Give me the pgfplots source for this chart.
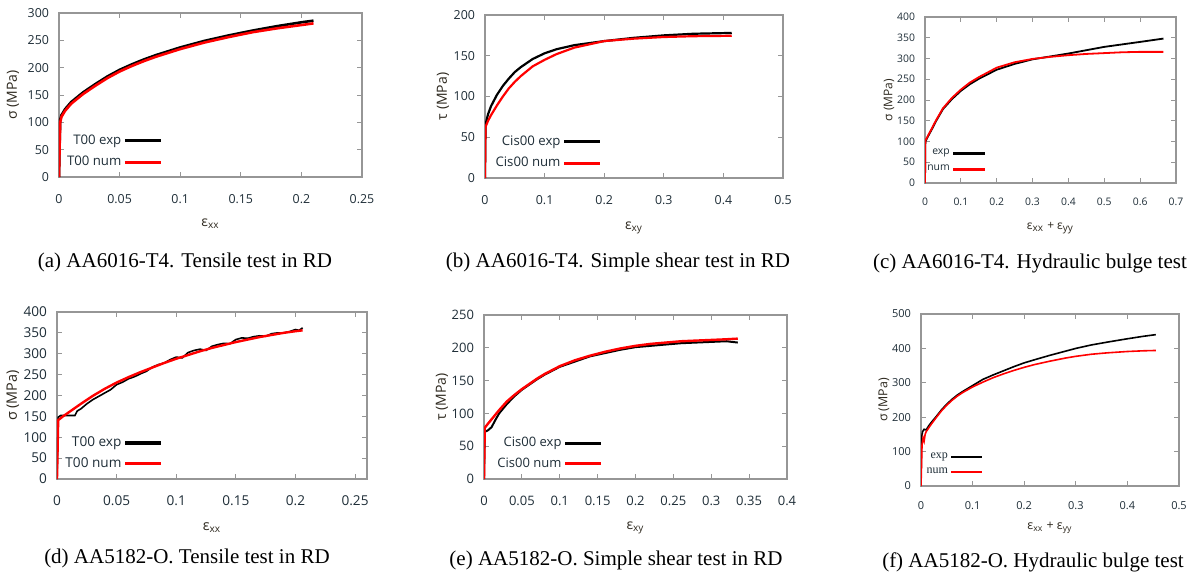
\documentclass[border=0pt]{standalone}
\usepackage{fontspec}
\setmainfont{Liberation Serif}
\newfontfamily\osans{Open Sans}
\usepackage{pgfplots}
\pgfplotsset{compat=1.18}
\definecolor{ticktxt}{RGB}{30,45,55}
\definecolor{labtxt}{RGB}{45,40,30}
\definecolor{frame}{RGB}{150,150,150}
\pgfplotsset{
  myaxis/.style={scale only axis, anchor=south west,
    axis line style={frame, line width=0.6pt},
    tick style={frame, line width=0.5pt},
    major tick length=2.5pt,
    tick label style={text=ticktxt, /pgf/number format/assume math mode=true},
    scaled ticks=false,
    xticklabel style={/pgf/number format/fixed, /pgf/number format/precision=3, yshift=-5pt},
    yticklabel style={xshift=-1.5pt},
    label style={text=labtxt},
    legend plot pos=right,
    legend cell align=right,
    legend style={draw=none, fill=none, inner sep=0pt, nodes={inner sep=1pt, text=ticktxt}, row sep=1.5pt},
    legend image code/.code={\draw[##1, line width=1.6pt] (0pt,0pt) -- (18pt,0pt);},
  },
  fs/.style={tick label style={font=\osans\fontsize{#1}{#1}\selectfont},
    legend style={font=\osans\fontsize{#1}{#1}\selectfont}},
  ls/.style={label style={font=\osans\fontsize{#1}{#1}\selectfont}},
}
\begin{document}
\begin{tikzpicture}
\path[use as bounding box] (0,0) rectangle (599.5pt,-289pt);
% (a)
\begin{axis}[myaxis, fs=6.2, ls=7, at={(29.5pt,-88.5pt)}, width=151.5pt, height=82pt,
  xmin=0, xmax=0.25, ymin=0, ymax=300,
  xtick={0,0.05,0.1,0.15,0.2,0.25}, ytick={0,50,100,150,200,250,300},
  xlabel={ε\textsubscript{xx}}, ylabel={σ (MPa)},
  xlabel style={at={(axis description cs:0.5,0)}, anchor=center, yshift=-23.5pt},
  ylabel style={at={([xshift=-23pt]axis description cs:0,0.5)}, anchor=center},
  legend style={at={(axis description cs:0.343,0.155)}, anchor=east, row sep=2.5pt, font=\osans\fontsize{6.6}{6.6}\selectfont}]
\addplot[black, line width=1.3pt] coordinates {(0,0) (0.0005,60) (0.001,105) (0.002,113) (0.005,124) (0.01,137) (0.02,155) (0.03,170) (0.04,184) (0.05,196) (0.06,206) (0.07,215) (0.08,223) (0.09,230) (0.1,237) (0.12,249) (0.14,259) (0.16,268) (0.18,276) (0.2,283) (0.21,286)};
\addlegendentry{T00 exp}
\addplot[red, line width=1.3pt] coordinates {(0,0) (0.0005,55) (0.001,100) (0.002,110) (0.005,121) (0.01,134) (0.02,152) (0.03,167) (0.04,181) (0.05,193) (0.06,203) (0.07,212) (0.08,220) (0.09,227) (0.1,234) (0.12,246) (0.14,256) (0.16,265) (0.18,272) (0.2,278) (0.21,281)};
\addlegendentry{T00 num}
\end{axis}
% (b)
\begin{axis}[myaxis, fs=6.2, ls=7, at={(242.5pt,-89pt)}, width=149pt, height=81.5pt,
  xmin=0, xmax=0.5, ymin=0, ymax=200,
  xtick={0,0.1,0.2,0.3,0.4,0.5}, ytick={0,50,100,150,200},
  xlabel={ε\textsubscript{xy}}, ylabel={τ (MPa)},
  xlabel style={at={(axis description cs:0.5,0)}, anchor=center, yshift=-25pt},
  ylabel style={at={([xshift=-21pt]axis description cs:0,0.5)}, anchor=center},
  legend style={at={(axis description cs:0.393,0.156)}, anchor=east, row sep=2.5pt, font=\osans\fontsize{6.6}{6.6}\selectfont}]
\addplot[black, line width=1.1pt] coordinates {(0,0) (0.0005,40) (0.001,66) (0.005,78) (0.01,88) (0.02,102) (0.03,113) (0.04,122) (0.05,130) (0.06,136) (0.07,141) (0.08,146) (0.1,153) (0.12,158) (0.15,163) (0.2,168) (0.25,172) (0.3,175) (0.35,177) (0.414,178)};
\addlegendentry{Cis00 exp}
\addplot[red, line width=1.1pt] coordinates {(0,0) (0.0005,40) (0.001,63) (0.005,70) (0.01,77) (0.02,89) (0.03,100) (0.04,110) (0.05,118) (0.06,125) (0.07,131) (0.08,137) (0.1,145) (0.12,152) (0.15,160) (0.2,168) (0.25,171) (0.3,173) (0.35,174) (0.414,174.5)};
\addlegendentry{Cis00 num}
\end{axis}
% (c)
\begin{axis}[myaxis, fs=5.2, ls=6, at={(462.5pt,-91.5pt)}, width=125.5pt, height=83pt,
  xmin=0, xmax=0.7, ymin=0, ymax=400,
  xtick={0,0.1,0.2,0.3,0.4,0.5,0.6,0.7}, ytick={0,50,100,150,200,250,300,350,400},
  xticklabel style={yshift=1pt},
  xlabel={ε\textsubscript{xx} + ε\textsubscript{yy}}, ylabel={σ (MPa)},
  xlabel style={at={(axis description cs:0.5,0)}, anchor=center, yshift=-22.5pt},
  ylabel style={at={([xshift=-18pt]axis description cs:0,0.5)}, anchor=center},
  legend image code/.code={\draw[#1, line width=1.4pt] (0pt,0pt) -- (16pt,0pt);},
  legend style={at={(axis description cs:0.247,0.130)}, anchor=east, row sep=1.5pt}]
\addplot[black, line width=0.9pt] coordinates {(0,0) (0.001,100) (0.01,115) (0.02,131) (0.03,148) (0.05,178) (0.075,202) (0.1,222) (0.125,238) (0.15,251) (0.2,273) (0.25,287) (0.3,298) (0.35,305) (0.4,312) (0.45,320) (0.5,328) (0.55,334) (0.6,340) (0.665,348)};
\addlegendentry{exp}
\addplot[red, line width=0.9pt] coordinates {(0,0) (0.001,102) (0.01,117) (0.02,133) (0.03,150) (0.05,180) (0.075,205) (0.1,225) (0.125,242) (0.15,255) (0.2,278) (0.25,291) (0.3,299) (0.35,304) (0.4,308) (0.45,311) (0.5,313) (0.55,315) (0.6,316) (0.665,316)};
\addlegendentry{num}
\end{axis}
% (d)
\begin{axis}[myaxis, fs=6.8, ls=7.2, at={(28.5pt,-239.5pt)}, width=155pt, height=83.5pt,
  xmin=0, xmax=0.26, ymin=0, ymax=400,
  xtick={0,0.05,0.1,0.15,0.2,0.25}, ytick={0,50,100,150,200,250,300,350,400},
  xlabel={ε\textsubscript{xx}}, ylabel={σ (MPa)},
  xlabel style={at={(axis description cs:0.5,0)}, anchor=center, yshift=-24.5pt},
  ylabel style={at={([xshift=-22pt]axis description cs:0,0.5)}, anchor=center},
  legend style={at={(axis description cs:0.342,0.153)}, anchor=east, row sep=2pt}]
\addplot[black, line width=0.8pt] coordinates {(0,0) (0.001,148) (0.003,152) (0.015,152) (0.017,163) (0.02,168) (0.025,180) (0.03,190) (0.035,198) (0.04,206) (0.045,214) (0.05,226) (0.055,232) (0.06,240) (0.065,245) (0.07,252) (0.075,258) (0.08,268) (0.085,274) (0.09,278) (0.095,286) (0.1,292) (0.105,290) (0.11,303) (0.115,308) (0.12,311) (0.125,308) (0.13,318) (0.135,322) (0.14,325) (0.145,324) (0.15,334) (0.155,338) (0.16,337) (0.165,341) (0.17,343) (0.175,342) (0.18,348) (0.185,350) (0.19,350) (0.195,353) (0.2,358) (0.203,356) (0.206,362)};
\addlegendentry{T00 exp}
\addplot[red, line width=1.2pt] coordinates {(0,0) (0.001,141) (0.005,150) (0.01,160) (0.02,180) (0.03,199) (0.04,216) (0.05,231) (0.06,244) (0.07,256) (0.08,267) (0.09,278) (0.1,288) (0.11,297) (0.12,306) (0.13,314) (0.14,321) (0.15,328) (0.16,334) (0.17,340) (0.18,345) (0.19,350) (0.2,354) (0.206,356)};
\addlegendentry{T00 num}
\end{axis}
% (e)
\begin{axis}[myaxis, fs=6.5, ls=7, at={(242pt,-239.5pt)}, width=151.5pt, height=82pt,
  xmin=0, xmax=0.4, ymin=0, ymax=250,
  xtick={0,0.05,0.1,0.15,0.2,0.25,0.3,0.35,0.4}, ytick={0,50,100,150,200,250},
  xlabel={ε\textsubscript{xy}}, ylabel={τ (MPa)},
  xlabel style={at={(axis description cs:0.5,0)}, anchor=center, yshift=-24.5pt},
  ylabel style={at={([xshift=-21pt]axis description cs:0,0.5)}, anchor=center},
  legend style={at={(axis description cs:0.393,0.155)}, anchor=east, row sep=2pt}]
\addplot[black, line width=1pt] coordinates {(0,0) (0.001,72) (0.005,74) (0.01,79) (0.015,90) (0.02,100) (0.03,114) (0.04,126) (0.05,136) (0.06,144) (0.07,152) (0.08,159) (0.09,165) (0.1,171) (0.12,179) (0.14,187) (0.16,192) (0.18,197) (0.2,201) (0.22,203) (0.24,205) (0.26,207) (0.28,208) (0.3,209) (0.32,210) (0.335,208)};
\addlegendentry{Cis00 exp}
\addplot[red, line width=1.2pt] coordinates {(0,0) (0.001,78) (0.005,84) (0.01,91) (0.02,105) (0.03,118) (0.04,128) (0.05,137) (0.06,145) (0.07,153) (0.08,160) (0.09,166) (0.1,172) (0.12,181) (0.14,188) (0.16,194) (0.18,199) (0.2,203) (0.22,206) (0.24,208) (0.26,210) (0.28,211) (0.3,212) (0.32,213) (0.335,214)};
\addlegendentry{Cis00 num}
\end{axis}
% (f)
\begin{axis}[myaxis, fs=5.5, ls=6.2, at={(460.5pt,-243pt)}, width=129pt, height=86pt,
  xmin=0, xmax=0.5, ymin=0, ymax=500,
  xtick={0,0.1,0.2,0.3,0.4,0.5}, ytick={0,100,200,300,400,500},
  xticklabel style={yshift=1pt},
  xlabel={ε\textsubscript{xx} + ε\textsubscript{yy}}, ylabel={σ (MPa)},
  xlabel style={at={(axis description cs:0.5,0)}, anchor=center, yshift=-21pt},
  ylabel style={at={([xshift=-18.5pt]axis description cs:0,0.5)}, anchor=center},
  legend image code/.code={\draw[#1, line width=1.3pt] (0pt,0pt) -- (15.5pt,0pt);},
  legend style={at={(axis description cs:0.244,0.125)}, anchor=east, row sep=1pt, font=\fontsize{6}{6}\selectfont}]
\addplot[black, line width=0.8pt] coordinates {(0,0) (0.001,140) (0.003,158) (0.006,165) (0.01,163) (0.015,175) (0.02,185) (0.03,203) (0.04,222) (0.05,238) (0.06,252) (0.07,264) (0.08,274) (0.1,292) (0.12,310) (0.14,323) (0.16,335) (0.18,347) (0.2,358) (0.22,367) (0.25,380) (0.28,392) (0.3,400) (0.33,410) (0.36,418) (0.4,428) (0.43,435) (0.455,440)};
\addlegendentry{exp}
\addplot[red, line width=0.8pt] coordinates {(0,0) (0.002,120) (0.004,140) (0.006,130) (0.008,150) (0.01,158) (0.02,180) (0.03,200) (0.04,219) (0.05,235) (0.06,249) (0.07,261) (0.08,271) (0.1,288) (0.12,302) (0.14,315) (0.16,326) (0.18,336) (0.2,345) (0.22,353) (0.25,363) (0.28,372) (0.3,377) (0.33,383) (0.36,387) (0.4,391) (0.43,393) (0.455,394)};
\addlegendentry{num}
\end{axis}
% captions
\node[font=\fontsize{10.5}{12}\selectfont] at (92.5pt,-131pt) {(a) AA6016-T4. Tensile test in RD};
\node[font=\fontsize{10.5}{12}\selectfont] at (309pt,-131pt) {(b) AA6016-T4. Simple shear test in RD};
\node[font=\fontsize{10.5}{12}\selectfont] at (515pt,-131.5pt) {(c) AA6016-T4. Hydraulic bulge test};
\node[font=\fontsize{10.5}{12}\selectfont] at (93.5pt,-279pt) {(d) AA5182-O. Tensile test in RD};
\node[font=\fontsize{10.5}{12}\selectfont] at (308pt,-280pt) {(e) AA5182-O. Simple shear test in RD};
\node[font=\fontsize{10.5}{12}\selectfont] at (516.5pt,-281pt) {(f) AA5182-O. Hydraulic bulge test};
\end{tikzpicture}
\end{document}
